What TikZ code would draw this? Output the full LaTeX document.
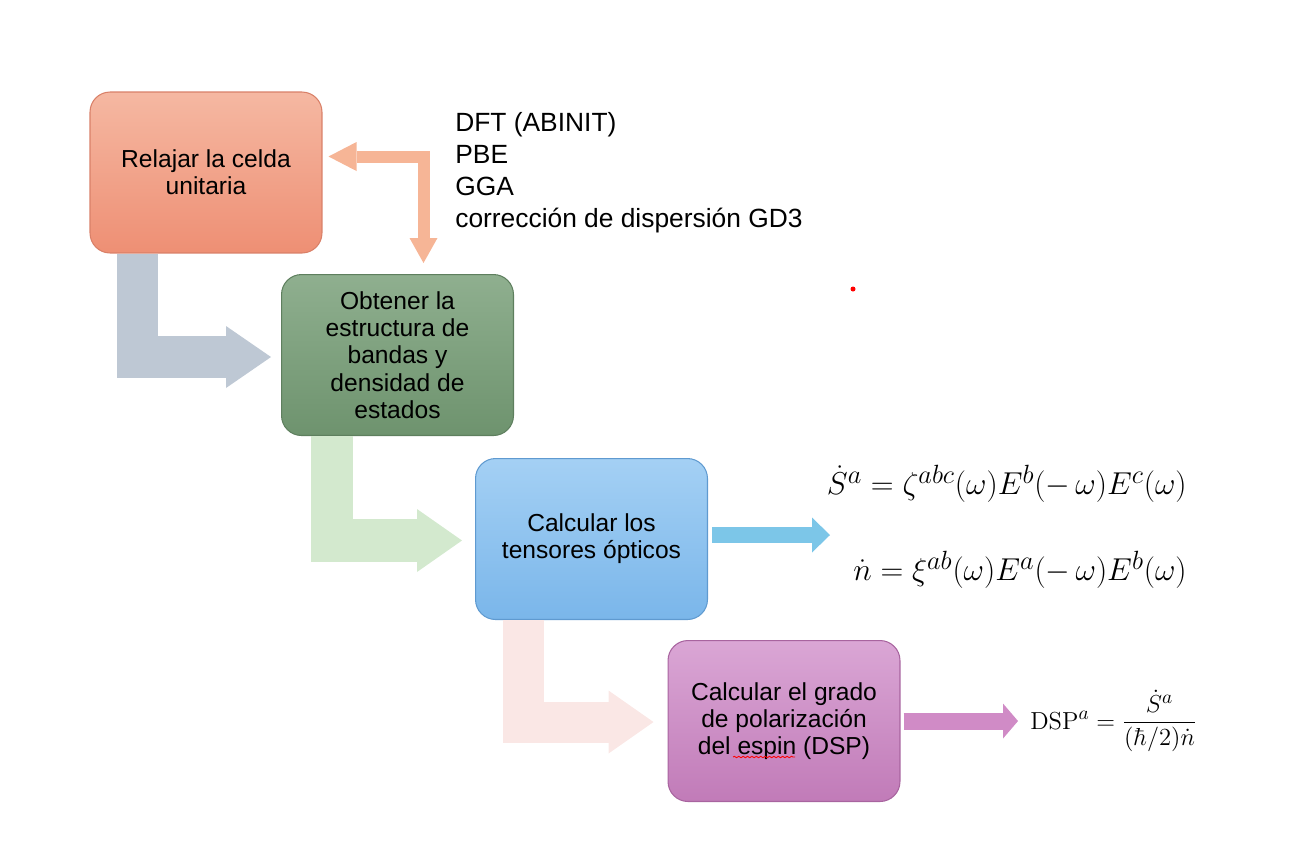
\RequirePackage{fix-cm}
\documentclass[tikz,border=0pt]{standalone}
\usepackage{amsmath}
\usepackage[no-math]{fontspec}
\newfontfamily\arial{Liberation Sans}
\usetikzlibrary{calc,arrows.meta,decorations.pathmorphing}
\DeclareMathSizes{18}{18}{15}{12}
\DeclareMathSizes{14}{14}{11}{8}
\definecolor{salmonA}{HTML}{F5B8A2}
\definecolor{salmonB}{HTML}{EE8F74}
\definecolor{salmonD}{HTML}{D98068}
\definecolor{verdeA}{HTML}{8FAF8F}
\definecolor{verdeB}{HTML}{6E936E}
\definecolor{verdeD}{HTML}{5E7F5E}
\definecolor{azulA}{HTML}{A4D0F4}
\definecolor{azulB}{HTML}{7AB6EA}
\definecolor{azulD}{HTML}{5F9AD0}
\definecolor{moradoA}{HTML}{DAA6D5}
\definecolor{moradoB}{HTML}{C17BB8}
\definecolor{moradoD}{HTML}{A8649F}
\definecolor{flechagris}{HTML}{BEC8D4}
\definecolor{flechaverde}{HTML}{D3E9CE}
\definecolor{flecharosa}{HTML}{FAE7E5}
\definecolor{flechaazul}{HTML}{7CC6E8}
\definecolor{flechamorada}{HTML}{D08BC6}
\definecolor{flechasalmon}{HTML}{F6B596}

\begin{document}
\begin{tikzpicture}[x=0.02cm,y=-0.02cm,
    caja/.style={rounded corners=0.4cm,line width=0.6pt,minimum width=4.64cm,minimum height=3.22cm,
                 align=center,inner sep=0pt,font=\arial\fontsize{14}{15.5}\selectfont},
    bloque/.style={line width=#1,line join=miter},
    ecuacion/.style={inner sep=0pt,font=\fontsize{18}{22}\selectfont}]
\useasboundingbox (0,0) rectangle (1300,867);
% cajas
\node[caja,draw=salmonD,top color=salmonA,bottom color=salmonB] (relajar) at (206,172.5) {Relajar la celda\\unitaria};
\node[caja,draw=verdeD,top color=verdeA,bottom color=verdeB] (obtener) at (397.5,355) {Obtener la\\estructura de\\bandas y\\densidad de\\estados};
\node[caja,draw=azulD,top color=azulA,bottom color=azulB] (tensores) at (591.5,539) {Calcular los\\tensores ópticos};
\node[caja,draw=moradoD,top color=moradoA,bottom color=moradoB] (grado) at (784,721) {Calcular el grado\\de polarización\\del espin (DSP)};
% textos
\node[anchor=north west,inner sep=0pt,align=left,font=\arial\fontsize{15}{18.2}\selectfont] (metodos) at (455,112)
  {DFT (ABINIT)\\PBE\\GGA\\corrección de dispersión GD3};
\node[ecuacion,anchor=east] (ec1) at (1187,484) {$\dot S^a = \zeta^{abc}(\omega)E^b(-\,\omega)E^c(\omega)$};
\node[ecuacion,anchor=east] (ec2) at (1187,570) {$\dot n = \xi^{ab}(\omega)E^a(-\,\omega)E^b(\omega)$};
\node[ecuacion,anchor=west,font=\fontsize{14}{17}\selectfont] (dsp) at (1030,721) {$\mathrm{DSP}^a = \dfrac{\dot S^a}{(\hbar/2)\dot n}$};
\coordinate (ecs) at (830,535);
% flechas
\draw[bloque=0.84cm,flechagris,-{Triangle[length=0.9cm,width=1.24cm,line width=0pt]}]
  ($(relajar.south west)+(48,0)$) |- ($(obtener.west)+(-10,2)$);
\draw[bloque=0.86cm,flechaverde,-{Triangle[length=0.9cm,width=1.26cm,line width=0pt]}]
  ($(obtener.south west)+(51,0)$) |- ($(tensores.west)+(-13,1.5)$);
\draw[bloque=0.82cm,flecharosa,-{Triangle[length=0.9cm,width=1.26cm,line width=0pt]}]
  ($(tensores.south west)+(48,0)$) |- ($(grado.west)+(-14,1)$);
\draw[bloque=0.24cm,flechasalmon,{Triangle[length=0.56cm,width=0.58cm,line width=0pt]}-{Triangle[length=0.5cm,width=0.56cm,line width=0pt]}]
  ($(relajar.east)+(6,-16)$) -| ($(obtener.north)+(26,-11)$);
\draw[bloque=0.32cm,flechaazul,-{Triangle[length=0.36cm,width=0.7cm,line width=0pt]}]
  ($(tensores.east)+(4,-4)$) -- (ecs);
\draw[bloque=0.34cm,flechamorada,-{Triangle[length=0.3cm,width=0.7cm,line width=0pt]}]
  ($(grado.east)+(3,0)$) -- ($(dsp.west)+(-12,0)$);
% marcas
\draw[red,line width=0.5pt,decorate,decoration={snake,amplitude=0.4pt,segment length=2.5pt}] (733,757) -- (795,757);
\fill[red] (853,289) circle (0.05cm);
\end{tikzpicture}
\end{document}
